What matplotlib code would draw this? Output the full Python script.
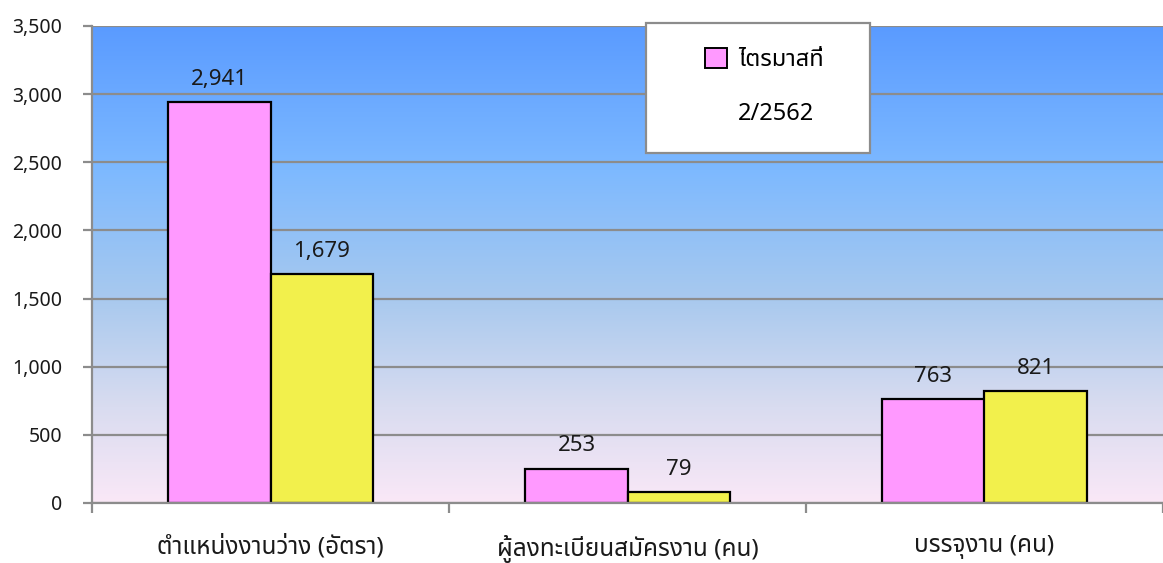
import numpy as np
import matplotlib
matplotlib.use("Agg")
import matplotlib.pyplot as plt
from matplotlib import font_manager
from matplotlib.ft2font import FT2Font
from matplotlib.colors import LinearSegmentedColormap
from matplotlib.patches import Patch, Rectangle

# ---- data ----
categories = ["ตำแหน่งงานว่าง (อัตรา)", "ผู้ลงทะเบียนสมัครงาน (คน)", "บรรจุงาน (คน)"]
series1 = [2941, 253, 763]
series2 = [1679, 79, 821]
series1_label = "ไตรมาสที่"
series2_label = "2/2562"
yticks = [0, 500, 1000, 1500, 2000, 2500, 3000, 3500]


def find_thai():
    pref = ['Leelawadee UI', 'Leelawadee', 'Tahoma', 'Noto Sans Thai', 'Noto Sans Thai UI',
            'Loma', 'Garuda', 'Sarabun', 'Waree', 'Umpush', 'Kinnari', 'Norasi',
            'Noto Serif Thai', 'Laksaman']
    names = {f.name for f in font_manager.fontManager.ttflist}
    for p in pref:
        if p in names:
            return p
    for f in font_manager.fontManager.ttflist:
        try:
            cm = FT2Font(f.fname).get_charmap()
            if 0x0E15 in cm and 0x0E32 in cm:
                return f.name
        except Exception:
            pass
    return None


thai = find_thai()
fam = ([thai] if thai else []) + ['DejaVu Sans']
plt.rcParams['font.family'] = fam

W, H = 1163, 563
fig = plt.figure(figsize=(W / 100, H / 100), dpi=100)
ax = fig.add_axes([92 / W, 1 - 503 / H, 1 - 92 / W, (503 - 26) / H])

x = np.arange(len(categories))
bw = 0.286

# gradient background (pink at bottom, blue at top)
cmap = LinearSegmentedColormap.from_list("bg", [
    (0.0, "#5A9BFF"), (0.3, "#7DB9FF"), (0.57, "#A8C9EE"),
    (0.8, "#D9DCF0"), (1.0, "#FAE8F7")])
grad = np.linspace(1, 0, 256).reshape(-1, 1)
ax.imshow(grad, cmap=cmap, vmin=0, vmax=1, aspect='auto',
          extent=(-0.5, len(categories) - 0.5, 0, 3500), origin='lower', zorder=0)
ax.set_xlim(-0.5, len(categories) - 0.5)
ax.set_ylim(0, 3500)

ax.yaxis.grid(True, color="#8C8C8C", linewidth=1.6, zorder=1)
ax.set_axisbelow(True)

b1 = ax.bar(x - bw / 2, series1, bw, color="#FF99FF", edgecolor="black", linewidth=1.6, zorder=3)
b2 = ax.bar(x + bw / 2, series2, bw, color="#F2F04C", edgecolor="black", linewidth=1.6, zorder=3)

for bars, vals in ((b1, series1), (b2, series2)):
    for r, v in zip(bars, vals):
        ax.annotate(f"{v:,}", (r.get_x() + r.get_width() / 2, v), xytext=(0, 9),
                    textcoords="offset points", ha="center", va="bottom",
                    fontsize=16, color="#1a1a1a", zorder=5)

ax.set_yticks(yticks)
ax.set_yticklabels([f"{v:,}" for v in yticks], fontsize=14, color="#1a1a1a")
ax.set_xticks(x)
ax.set_xticklabels(categories, fontsize=17.5, color="#1a1a1a")
ax.tick_params(axis='x', length=0, pad=23)
ax.set_xticks(np.arange(-0.5, len(categories), 1.0), minor=True)
ax.tick_params(axis='x', which='minor', length=7, width=1.6, color="#8C8C8C")
ax.tick_params(axis='y', length=6.5, width=1.6, color="#8C8C8C", pad=15)

for s in ("top", "right"):
    ax.spines[s].set_visible(False)
for s in ("left", "bottom"):
    ax.spines[s].set_color("#8C8C8C")
    ax.spines[s].set_linewidth(1.6)
    ax.spines[s].set_zorder(4)

# legend box
fig.patches.append(Rectangle((646 / W, 1 - 153 / H), (870 - 646) / W, (153 - 23) / H,
                             transform=fig.transFigure, facecolor="white",
                             edgecolor="#8C8C8C", linewidth=1.6, zorder=10))
handles = [Patch(facecolor="#FF99FF", edgecolor="black", linewidth=1.4),
           Patch(facecolor="none", edgecolor="none")]
leg = fig.legend(handles, [series1_label, series2_label], loc="upper left",
                 bbox_to_anchor=(705 / W, 1 - 48 / H), frameon=False, fontsize=17,
                 handlelength=0.95, handleheight=0.95, handletextpad=0.45, labelspacing=1.25,
                 borderpad=0.0, borderaxespad=0.0)
leg.set_zorder(11)

fig.savefig("out.png", dpi=100)
